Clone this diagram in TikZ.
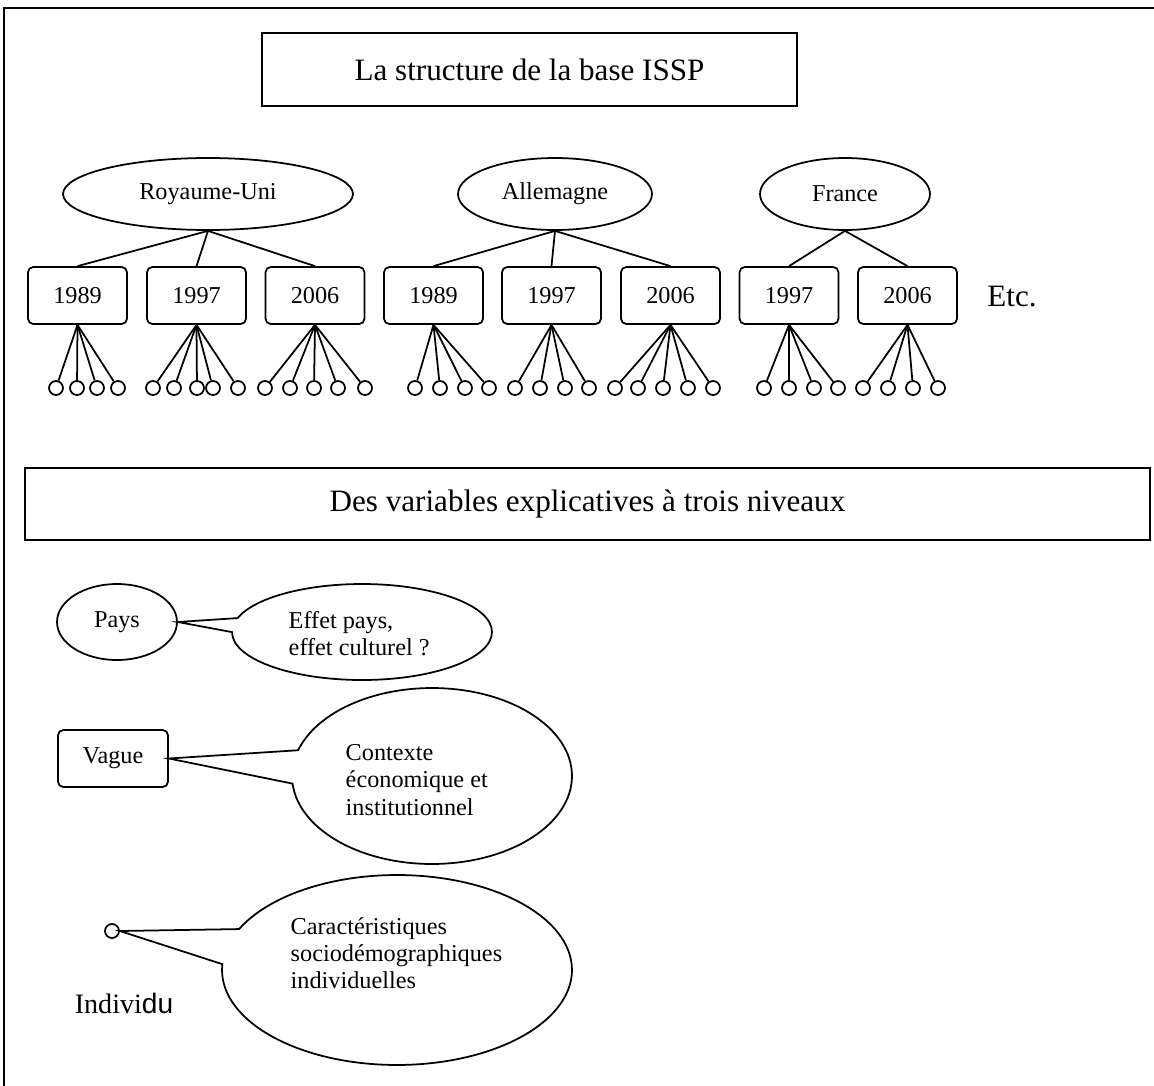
\documentclass[tikz,border=0pt]{standalone}
\usepackage{fontspec}
\setmainfont{Liberation Serif}
\setsansfont{Liberation Sans}
\usetikzlibrary{shapes.geometric,shapes.callouts}

\begin{document}
\begin{tikzpicture}[x=0.02cm, y=-0.02cm, line width=1pt,
  font=\fontsize{13.8}{15.5}\selectfont,
  titre/.style={draw, minimum height=1.46cm, font=\fontsize{17.7}{20}\selectfont},
  pays/.style={draw, ellipse, minimum height=1.44cm, inner sep=0pt},
  vague/.style={draw, rounded corners=3pt, minimum width=1.98cm, minimum height=1.14cm},
  indiv/.style={draw, circle, minimum size=0.28cm, inner sep=0pt},
  bulle/.style={draw, ellipse callout, inner sep=0pt}]
\useasboundingbox (0,0) rectangle (1154,1086);
\draw[line width=0.8pt] (1154,8) -- (4,8) -- (4,1086);

% la structure de la base
\node[titre, minimum width=10.7cm] (titre) at (529.5,69.5) {La structure de la base ISSP};
\node[pays, minimum width=5.8cm] (ru) at (208,194) {Royaume-Uni};
\node[pays, minimum width=3.88cm] (de) at (555,194) {Allemagne};
\node[pays, minimum width=3.4cm] (fr) at (845,194) {France};

\node[vague] (ru89) at (77.5,295.5) {1989};
\node[vague] (ru97) at (196.5,295.5) {1997};
\node[vague] (ru06) at (315,295.5) {2006};
\node[vague] (de89) at (433.5,295.5) {1989};
\node[vague] (de97) at (551.5,295.5) {1997};
\node[vague] (de06) at (670.5,295.5) {2006};
\node[vague] (fr97) at (789,295.5) {1997};
\node[vague] (fr06) at (907.5,295.5) {2006};
\node[font=\fontsize{17.7}{20}\selectfont] (etc) at (1012,297) {Etc.};

\draw (ru.south) -- (ru89.north);
\draw (ru.south) -- (ru97.north);
\draw (ru.south) -- (ru06.north);
\draw (de.south) -- (de89.north);
\draw (de.south) -- (de97.north);
\draw (de.south) -- (de06.north);
\draw (fr.south) -- (fr97.north);
\draw (fr.south) -- (fr06.north);

% les individus
\foreach \v/\xs in {ru89/{56,77,97,118}, ru97/{153,174,197,213,238}, ru06/{265,290,314,338,365},
                    de89/{415,440,465,489}, de97/{515,540,565,589}, de06/{615,638,663,688,713},
                    fr97/{764,789,814,838}, fr06/{863,888,913,938}}
  \foreach \x in \xs {
    \node[indiv] (\v-\x) at (\x,388) {};
    \draw (\v.south) -- (\v-\x);
  }

% les trois niveaux
\node[titre, minimum width=22.5cm, minimum height=1.44cm] (niveaux) at (587.5,504) {Des variables explicatives à trois niveaux};

\node[pays, minimum width=2.4cm, minimum height=1.52cm] (p) at (117,622) {Pays};
\node[bulle, minimum width=5.2cm, minimum height=1.92cm, callout absolute pointer={(p.east)}, callout pointer arc=17] (bp) at (362,632) {};
\node[anchor=west, align=left] (tp) at (282,634) {Effet pays,\\effet culturel ?};

\node[vague, minimum width=2.2cm] (v) at (113,758.5) {Vague};
\node[bulle, minimum width=5.6cm, minimum height=3.52cm, callout absolute pointer={(v.east)}, callout pointer arc=22] (bv) at (432,776) {};
\node[anchor=west, align=left] (tv) at (339,780) {Contexte\\économique et\\institutionnel};

\node[indiv] (i) at (112,931) {};
\node[bulle, minimum width=7cm, minimum height=3.8cm, callout absolute pointer={(i.east)}, callout pointer arc=22] (bi) at (397,970) {};
\node[anchor=west, align=left] (ti) at (284,953) {Caractéristiques\\sociodémographiques\\individuelles};
\node[font=\fontsize{16}{18}\selectfont] (ni) at (124,1003) {Indivi{\sffamily du}};
\end{tikzpicture}
\end{document}
